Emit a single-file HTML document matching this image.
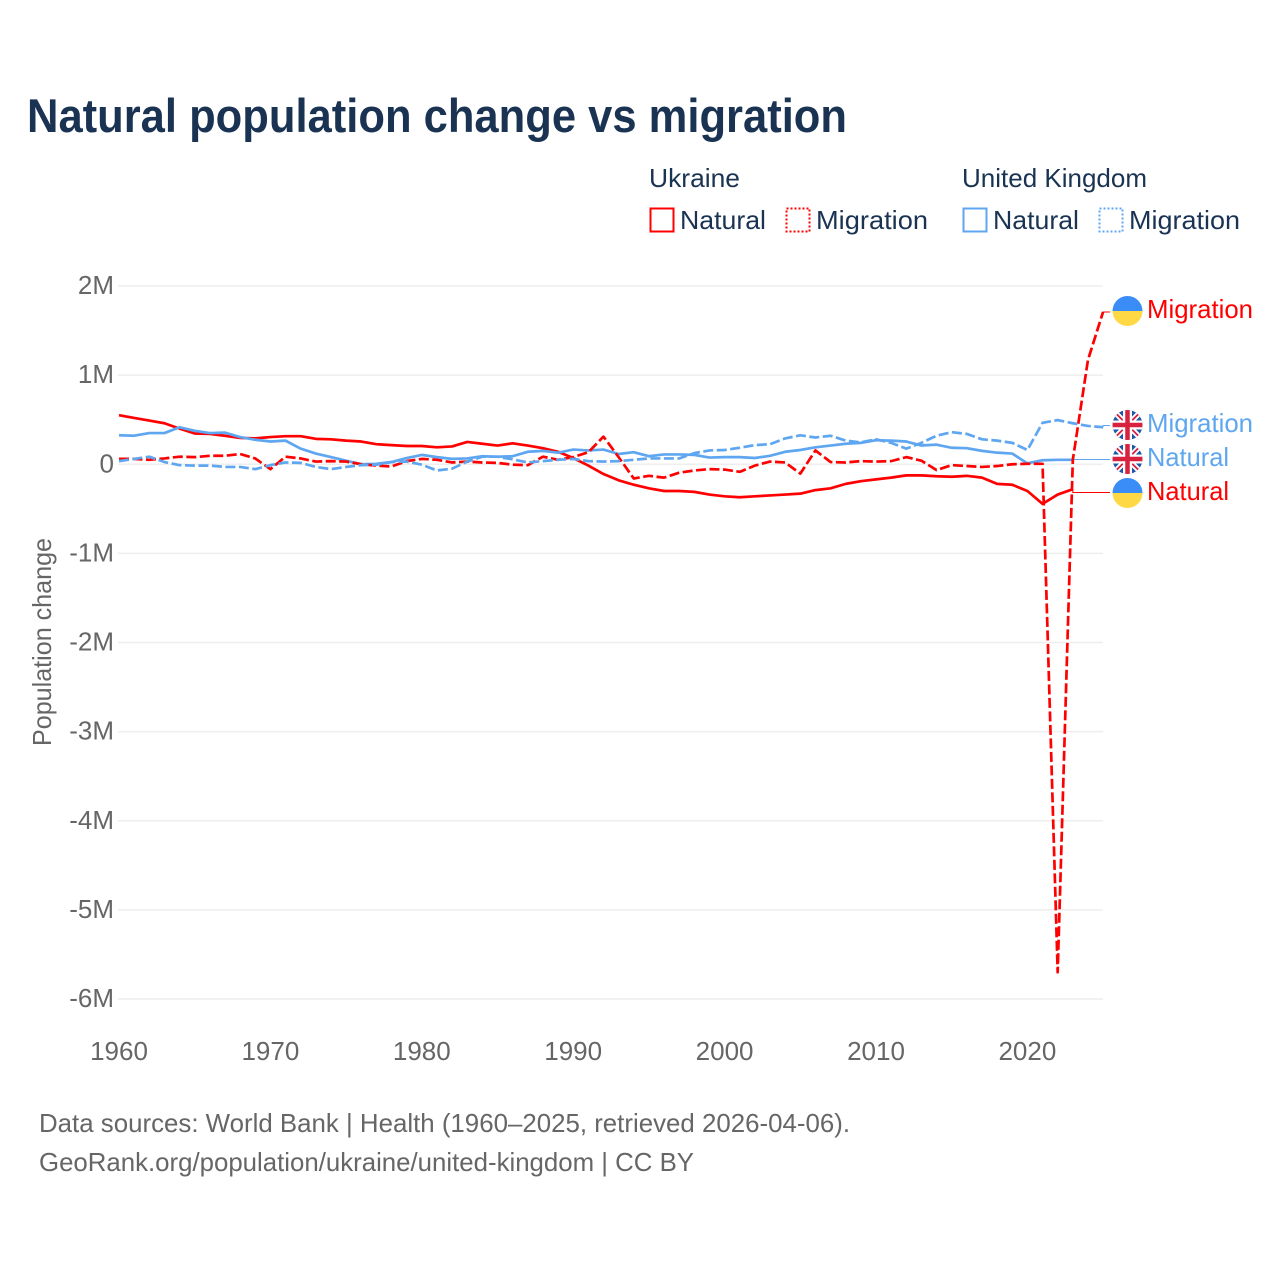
<!DOCTYPE html>
<html lang="en">
<head>
<meta charset="utf-8">
<title>Natural population change vs migration</title>
<style>
html,body{margin:0;padding:0;background:#fff;}
svg{display:block;font-family:"Liberation Sans",sans-serif;}
</style>
</head>
<body>
<svg id="chart" width="1280" height="1280" viewBox="0 0 1280 1280" xmlns="http://www.w3.org/2000/svg">
  <defs>
    <clipPath id="flag-clip"><circle cx="0" cy="0" r="15"/></clipPath>
    <g id="flag-ua">
      <g clip-path="url(#flag-clip)">
        <rect x="-15" y="-15" width="30" height="15" fill="#3a8cf6"/>
        <rect x="-15" y="0" width="30" height="15" fill="#ffd945"/>
      </g>
    </g>
    <g id="flag-uk">
      <g clip-path="url(#flag-clip)">
        <rect x="-15" y="-15" width="30" height="30" fill="#1c56a5"/>
        <path d="M-15 -15L15 15M15 -15L-15 15" stroke="#fff" stroke-width="5.5"/>
        <path d="M-15 -15L15 15M15 -15L-15 15" stroke="#d8203f" stroke-width="1.8"/>
        <path d="M0 -15V15M-15 0H15" stroke="#fff" stroke-width="9"/>
        <path d="M0 -15V15M-15 0H15" stroke="#d8203f" stroke-width="4.5"/>
      </g>
    </g>
  </defs>

  <text x="27" y="132" font-size="47" font-weight="700" fill="#1a3353" textLength="820" lengthAdjust="spacingAndGlyphs">Natural population change vs migration</text>

  <g font-size="26" fill="#1a3353">
    <text x="649" y="187" textLength="91" lengthAdjust="spacingAndGlyphs">Ukraine</text>
    <text x="962" y="187" textLength="185" lengthAdjust="spacingAndGlyphs">United Kingdom</text>

    <rect x="650.5" y="208.5" width="23" height="23" fill="none" stroke="#ff0000" stroke-width="2"/>
    <text x="680" y="229" textLength="86" lengthAdjust="spacingAndGlyphs">Natural</text>
    <rect x="786.5" y="208.5" width="23" height="23" fill="none" stroke="#ff0000" stroke-width="2" stroke-dasharray="2 2"/>
    <text x="816" y="229" textLength="112" lengthAdjust="spacingAndGlyphs">Migration</text>

    <rect x="963.5" y="208.5" width="23" height="23" fill="none" stroke="#5fa6f0" stroke-width="2"/>
    <text x="993" y="229" textLength="86" lengthAdjust="spacingAndGlyphs">Natural</text>
    <rect x="1099.5" y="208.5" width="23" height="23" fill="none" stroke="#5fa6f0" stroke-width="2" stroke-dasharray="2 2"/>
    <text x="1129" y="229" textLength="111" lengthAdjust="spacingAndGlyphs">Migration</text>
  </g>

  <g id="grid"></g>
  <g id="y-ticks" font-size="26" fill="#666666" text-anchor="end"></g>
  <g id="x-ticks" font-size="26" fill="#666666" text-anchor="middle"></g>
  <text transform="translate(51 642) rotate(-90)" font-size="26" fill="#666666" text-anchor="middle" textLength="208" lengthAdjust="spacingAndGlyphs">Population change</text>

  <g id="connectors"></g>
  <g id="series"></g>

  <g font-size="26">
    <use href="#flag-ua" x="1127.5" y="311"/>
    <text x="1147" y="318" fill="#ff0000" textLength="106" lengthAdjust="spacingAndGlyphs">Migration</text>
    <use href="#flag-uk" x="1127.5" y="425"/>
    <text x="1147" y="432" fill="#5fa6f0" textLength="106" lengthAdjust="spacingAndGlyphs">Migration</text>
    <use href="#flag-uk" x="1127.5" y="459"/>
    <text x="1147" y="466" fill="#5fa6f0" textLength="82" lengthAdjust="spacingAndGlyphs">Natural</text>
    <use href="#flag-ua" x="1127.5" y="493"/>
    <text x="1147" y="500" fill="#ff0000" textLength="82" lengthAdjust="spacingAndGlyphs">Natural</text>
  </g>

  <g font-size="26" fill="#666666">
    <text x="39" y="1132" textLength="811" lengthAdjust="spacingAndGlyphs">Data sources: World Bank | Health (1960–2025, retrieved 2026-04-06).</text>
    <text x="39" y="1171" textLength="655" lengthAdjust="spacingAndGlyphs">GeoRank.org/population/ukraine/united-kingdom | CC BY</text>
  </g>
</svg>

<script>
const startYear = 1960;
const yTickValues = [2, 1, 0, -1, -2, -3, -4, -5, -6];
const yTickLabels = ["2M", "1M", "0", "-1M", "-2M", "-3M", "-4M", "-5M", "-6M"];
const xTickYears = [1960, 1970, 1980, 1990, 2000, 2010, 2020];

const ukraineNatural = [0.55,0.52,0.49,0.46,0.40,0.345,0.34,0.32,0.295,0.29,0.305,0.315,0.315,0.285,0.28,0.265,0.255,0.225,0.215,0.205,0.205,0.19,0.20,0.25,0.23,0.21,0.235,0.21,0.18,0.14,0.07,-0.015,-0.11,-0.18,-0.23,-0.27,-0.30,-0.30,-0.31,-0.34,-0.36,-0.37,-0.36,-0.35,-0.34,-0.33,-0.29,-0.27,-0.22,-0.19,-0.17,-0.15,-0.125,-0.125,-0.135,-0.14,-0.13,-0.15,-0.22,-0.23,-0.30,-0.445,-0.34,-0.28];
const ukraineMigration = [0.06,0.06,0.05,0.065,0.085,0.08,0.095,0.095,0.115,0.065,-0.055,0.085,0.065,0.03,0.035,0.03,0.0,-0.015,-0.025,0.035,0.06,0.05,0.02,0.03,0.02,0.015,-0.005,-0.01,0.085,0.05,0.08,0.135,0.31,0.08,-0.16,-0.13,-0.15,-0.095,-0.07,-0.055,-0.06,-0.085,-0.015,0.03,0.02,-0.105,0.155,0.025,0.02,0.035,0.03,0.035,0.08,0.04,-0.065,-0.01,-0.02,-0.03,-0.02,0.0,0.005,0.005,-5.70,0.05,1.17,1.71];
const ukNatural = [0.325,0.32,0.35,0.35,0.415,0.375,0.35,0.355,0.305,0.275,0.255,0.265,0.175,0.12,0.08,0.04,0.0,0.005,0.025,0.07,0.105,0.08,0.06,0.065,0.09,0.085,0.09,0.14,0.15,0.13,0.165,0.155,0.165,0.115,0.135,0.09,0.11,0.11,0.105,0.075,0.08,0.08,0.07,0.095,0.14,0.16,0.19,0.21,0.23,0.24,0.27,0.265,0.255,0.21,0.22,0.185,0.18,0.15,0.13,0.12,0.01,0.045,0.05,0.05];
const ukMigration = [0.035,0.06,0.085,0.025,-0.01,-0.015,-0.015,-0.03,-0.03,-0.055,-0.01,0.02,0.015,-0.03,-0.055,-0.03,-0.01,-0.005,0.025,0.03,-0.005,-0.07,-0.05,0.03,0.085,0.085,0.055,0.02,0.035,0.05,0.06,0.035,0.03,0.035,0.05,0.065,0.065,0.065,0.125,0.155,0.16,0.185,0.215,0.225,0.29,0.325,0.30,0.32,0.265,0.245,0.28,0.24,0.175,0.24,0.32,0.36,0.34,0.28,0.265,0.24,0.16,0.465,0.495,0.46,0.43,0.415];

const NS = "http://www.w3.org/2000/svg";
function xScale(year) { return 119 + (year - 1960) * 15.14; }
function yScale(value) { return 464.25 - value * 89.125; }

const gridGroup = document.getElementById("grid");
const yTickGroup = document.getElementById("y-ticks");
yTickValues.forEach(function (v, i) {
  const line = document.createElementNS(NS, "line");
  
  
  line.setAttribute("x1", 118);
  line.setAttribute("x2", 1103);
  line.setAttribute("y1", yScale(v));
  line.setAttribute("y2", yScale(v));
  line.setAttribute("stroke", "#eeeeee");
  line.setAttribute("stroke-width", 1.5);
  gridGroup.appendChild(line);

  const label = document.createElementNS(NS, "text");
  
  
  label.setAttribute("x", 114);
  label.setAttribute("y", yScale(v) + 8);
  label.textContent = yTickLabels[i];
  yTickGroup.appendChild(label);
});

const xTickGroup = document.getElementById("x-ticks");
xTickYears.forEach(function (yr) {
  const label = document.createElementNS(NS, "text");
  
  
  label.setAttribute("x", xScale(yr));
  label.setAttribute("y", 1060);
  label.textContent = String(yr);
  xTickGroup.appendChild(label);
});

function pathFor(values) {
  return values.map(function (v, i) {
    return (i ? "L" : "M") + xScale(startYear + i).toFixed(2) + " " + yScale(v).toFixed(2);
  }).join("");
}

const seriesGroup = document.getElementById("series");
function drawSeries(values, colour, dashed, name) {
  const path = document.createElementNS(NS, "path");
  
  
  path.setAttribute("d", pathFor(values));
  path.setAttribute("fill", "none");
  path.setAttribute("stroke", colour);
  path.setAttribute("stroke-width", 2.7);
  path.setAttribute("stroke-linejoin", "round");
  if (dashed) path.setAttribute("stroke-dasharray", "10 3.5");
  seriesGroup.appendChild(path);
}
drawSeries(ukraineNatural, "#ff0000", false, "line-ukraine-natural");
drawSeries(ukNatural, "#5fa6f0", false, "line-uk-natural");
drawSeries(ukraineMigration, "#ff0000", true, "line-ukraine-migration");
drawSeries(ukMigration, "#5fa6f0", true, "line-uk-migration");

const connectorGroup = document.getElementById("connectors");
function drawConnector(values, labelY, colour, name) {
  const lastIndex = values.length - 1;
  const x0 = xScale(startYear + lastIndex);
  const y0 = yScale(values[lastIndex]);
  const path = document.createElementNS(NS, "path");
  
  
  path.setAttribute("d", "M" + x0 + " " + y0 + "V" + labelY + "H1110");
  path.setAttribute("fill", "none");
  path.setAttribute("stroke", colour);
  path.setAttribute("stroke-width", 1);
  connectorGroup.appendChild(path);
}
drawConnector(ukraineMigration, 312, "#ff0000", "connector-ukraine-migration");
drawConnector(ukMigration, 425.5, "#5fa6f0", "connector-uk-migration");
drawConnector(ukNatural, 459.5, "#5fa6f0", "connector-uk-natural");
drawConnector(ukraineNatural, 492.5, "#ff0000", "connector-ukraine-natural");
</script>
</body>
</html>
